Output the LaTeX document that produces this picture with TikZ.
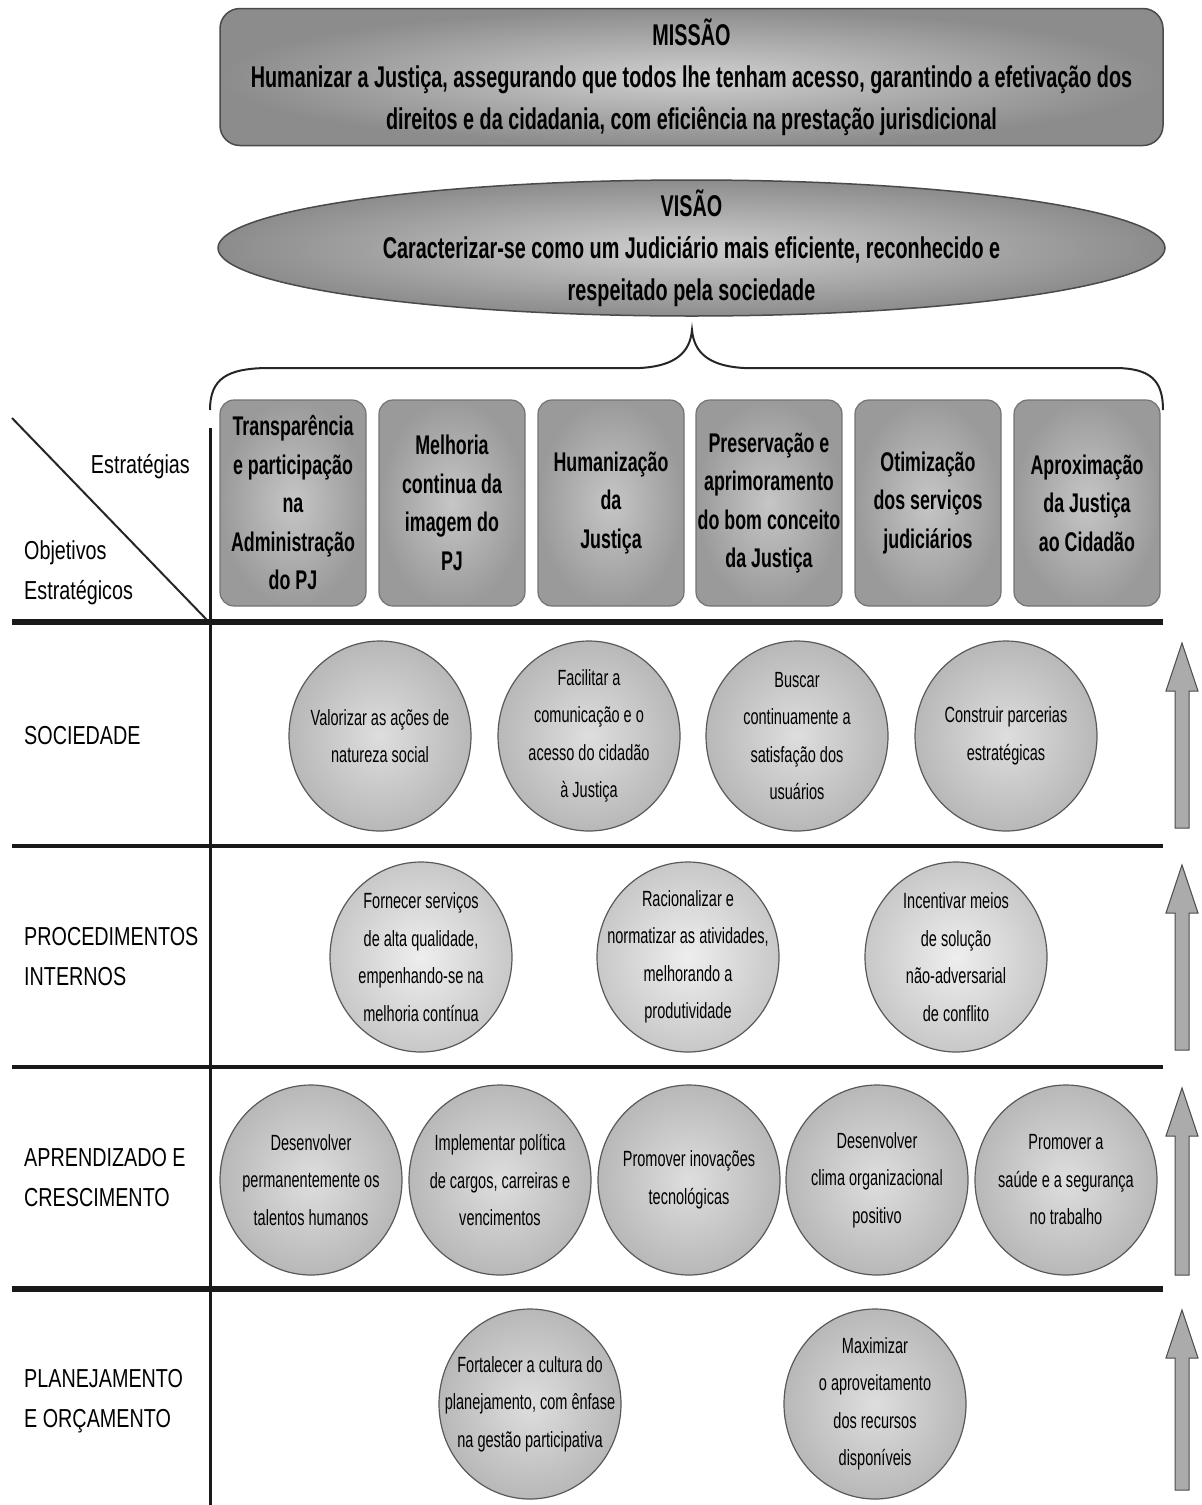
\documentclass[tikz,border=0pt]{standalone}
\usepackage{fontspec}
\setmainfont[FakeStretch=0.66]{Liberation Sans}
\newfontfamily\lblfont[FakeStretch=0.76]{Liberation Sans}
\usetikzlibrary{shapes.geometric}
\definecolor{edgegray}{HTML}{4A4A4A}
\definecolor{boxout}{HTML}{9A9A9A}
\definecolor{boxin}{HTML}{C6C6C6}
\definecolor{topout}{HTML}{8C8C8C}
\definecolor{topin}{HTML}{CFCFCF}
\definecolor{ro}{HTML}{B8B8B8}
\definecolor{ri}{HTML}{DEDEDE}
\definecolor{lo}{HTML}{C8C8C8}
\definecolor{li}{HTML}{EEEEEE}
\definecolor{arrfill}{HTML}{ABABAB}
\begin{document}
\begin{tikzpicture}[x=1pt,y=-1pt,
  topbox/.style={rectangle, rounded corners=20pt, draw=edgegray, line width=1.5pt,
    inner color=topin, outer color=topout, align=center, inner sep=0pt,
    font=\bfseries\fontsize{30}{42}\selectfont},
  stratbox/.style={rectangle, rounded corners=14pt, draw=black!55, line width=1.2pt,
    inner color=boxin, outer color=boxout, minimum width=146pt, minimum height=206pt,
    inner sep=0pt, align=center, font=\bfseries\fontsize{27}{38.5}\selectfont},
  obj/.style={ellipse, draw=black!65, line width=1.2pt, minimum width=182pt,
    minimum height=190pt, inner xsep=-30pt, inner ysep=-12pt, align=center,
    font=\fontsize{22}{37.5}\selectfont},
  rowA/.style={obj, inner color=ri, outer color=ro},
  rowB/.style={obj, inner color=li, outer color=lo},
  rowlbl/.style={anchor=west, align=left, inner sep=0pt,
    font=\lblfont\fontsize{26}{40}\selectfont},
  hline/.style={draw=black!90},
  uparrow/.style={draw=black!70, line width=1pt, fill=arrfill},
  brace/.style={draw=black!85, line width=2pt}
]
\useasboundingbox (0,0) rectangle (1202,1505);

% Mission
\node[topbox, minimum width=943pt, minimum height=137pt] (missao) at (691.5,77)
  {MISSÃO\\Humanizar a Justiça, assegurando que todos lhe tenham acesso, garantindo a efetivação dos\\direitos e da cidadania, com eficiência na prestação jurisdicional};

% Vision
\node[ellipse, draw=edgegray, line width=1.5pt, inner color=topin, outer color=topout,
  minimum width=947pt, minimum height=136pt, inner xsep=0pt, inner ysep=-14pt, align=center,
  font=\bfseries\fontsize{30}{42}\selectfont] (visao) at (691.5,248)
  {VISÃO\\Caracterizar-se como um Judiciário mais eficiente, reconhecido e\\respeitado pela sociedade};

% Brace
\coordinate (bl) at (210,410);
\coordinate (br) at (1163,410);
\coordinate (bc) at (692,330);
\draw[brace] (bl) .. controls (210,378) and (228,369) .. (265,368) -- (640,368)
  .. controls (676,366) and (690,352) .. (bc)
  .. controls (694,352) and (708,366) .. (744,368) -- (1118,368)
  .. controls (1150,369) and (1163,380) .. (br);

% Header cell
\coordinate (d1) at (12,418);
\coordinate (d2) at (207,620);
\draw[line width=2pt, black!85] (d1) -- (d2);
\node[rowlbl, anchor=east] (estr) at (190,467) {Estratégias};
\node[rowlbl] (objest) at (24,573) {Objetivos\\Estratégicos};

% Grid lines
\coordinate (vtop) at (210,428);
\coordinate (vbot) at (210,1505);
\draw[line width=3pt, black!90] (vtop) -- (vbot);
\coordinate (h1a) at (12,622);  \coordinate (h1b) at (1163,622);
\coordinate (h2a) at (12,846);  \coordinate (h2b) at (1163,846);
\coordinate (h3a) at (12,1067); \coordinate (h3b) at (1163,1067);
\coordinate (h4a) at (12,1289); \coordinate (h4b) at (1163,1289);
\draw[hline, line width=6pt] (h1a) -- (h1b);
\draw[hline, line width=4pt] (h2a) -- (h2b);
\draw[hline, line width=3.5pt] (h3a) -- (h3b);
\draw[hline, line width=6pt] (h4a) -- (h4b);

% Strategies
\node[stratbox] (s1) at (293,503) {Transparência\\e participação\\na\\Administração\\do PJ};
\node[stratbox] (s2) at (452,503) {Melhoria\\continua da\\imagem do\\PJ};
\node[stratbox] (s3) at (611,503) {Humanização\\da\\Justiça};
\node[stratbox] (s4) at (769,503) {Preservação e\\aprimoramento\\do bom conceito\\da Justiça};
\node[stratbox] (s5) at (928,503) {Otimização\\dos serviços\\judiciários};
\node[stratbox] (s6) at (1087,503) {Aproximação\\da Justiça\\ao Cidadão};

% Row labels
\node[rowlbl] (lsoc) at (24,736) {SOCIEDADE};
\node[rowlbl] (lproc) at (24,957) {PROCEDIMENTOS\\INTERNOS};
\node[rowlbl] (lapr) at (24,1178) {APRENDIZADO E\\CRESCIMENTO};
\node[rowlbl] (lplan) at (24,1401) {PLANEJAMENTO\\E ORÇAMENTO};

% Row 1
\node[rowA] (o11) at (380,736) {Valorizar as ações de\\natureza social};
\node[rowA] (o12) at (589,736) {Facilitar a\\comunicação e o\\acesso do cidadão\\à Justiça};
\node[rowA] (o13) at (797,736) {Buscar\\continuamente a\\satisfação dos\\usuários};
\node[rowA] (o14) at (1006,736) {Construir parcerias\\estratégicas};

% Row 2
\node[rowB] (o21) at (421,957) {Fornecer serviços\\de alta qualidade,\\empenhando-se na\\melhoria contínua};
\node[rowB] (o22) at (688,957) {Racionalizar e\\normatizar as atividades,\\melhorando a\\produtividade};
\node[rowB] (o23) at (956,957) {Incentivar meios\\de solução\\não-adversarial\\de conflito};

% Row 3
\node[rowA] (o31) at (311,1180) {Desenvolver\\permanentemente os\\talentos humanos};
\node[rowA] (o32) at (500,1180) {Implementar política\\de cargos, carreiras e\\vencimentos};
\node[rowA] (o33) at (689,1180) {Promover inovações\\tecnológicas};
\node[rowA] (o34) at (877,1180) {Desenvolver\\clima organizacional\\positivo};
\node[rowA] (o35) at (1066,1180) {Promover a\\saúde e a segurança\\no trabalho};

% Row 4
\node[rowA] (o41) at (530,1404) {Fortalecer a cultura do\\planejamento, com ênfase\\na gestão participativa};
\node[rowA] (o42) at (875,1404) {Maximizar\\o aproveitamento\\dos recursos\\disponíveis};

% Up arrows
\foreach \t/\b in {643/828, 865/1050, 1088/1275, 1310/1490}{
  \draw[uparrow] (1175,\b) -- (1175,\t+48) -- (1166,\t+48) -- (1182,\t)
    -- (1198,\t+48) -- (1189,\t+48) -- (1189,\b) -- cycle;
}
\end{tikzpicture}
\end{document}
